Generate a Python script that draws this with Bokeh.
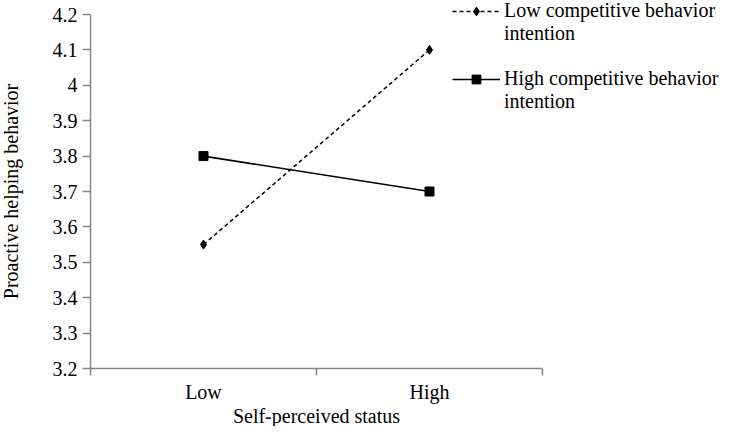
from bokeh.plotting import figure
from bokeh.models import (Range1d, FixedTicker, CustomJSTickFormatter, Legend, LegendItem)
from bokeh.embed import file_html
from bokeh.resources import INLINE

# ---- data ----
categories = ["Low", "High"]
low_competitive = [3.55, 4.10]
high_competitive = [3.80, 3.70]
y_ticks = [3.2, 3.3, 3.4, 3.5, 3.6, 3.7, 3.8, 3.9, 4.0, 4.1, 4.2]
series_names = ["Low competitive behavior", "High competitive behavior"]
x_title = "Self-perceived status"
y_title = "Proactive helping behavior"

FONT = "Liberation Serif"
FS = "20px"
AXIS_COLOR = "#878787"

# ---- layout (pixels) ----
W, H = 722, 426
AX_L, AX_R = 90, 542      # x extent of the x axis
AX_T, AX_B = 14, 368      # y extent of the y axis

n = len(categories)
x_pos = [i + 0.5 for i in range(n)]
bounds = [i for i in range(n + 1)]
y0, y1 = y_ticks[0], y_ticks[-1]

ppx = (AX_R - AX_L) / n
ppy = (AX_B - AX_T) / (y1 - y0)
x_start, x_end = -AX_L / ppx, (W - AX_L) / ppx
y_start, y_end = y0 - (H - AX_B) / ppy, y1 + AX_T / ppy

p = figure(width=W, height=H, output_backend="svg", toolbar_location=None,
           x_range=Range1d(x_start, x_end), y_range=Range1d(y_start, y_end),
           min_border=0, min_border_left=0, min_border_right=0,
           min_border_top=0, min_border_bottom=0)
p.outline_line_color = None
p.xgrid.visible = False
p.ygrid.visible = False
p.background_fill_color = "white"
p.border_fill_color = "white"

# series
l1 = p.line(x_pos, low_competitive, line_color="black", line_width=1.5, line_dash="4 3")
m1 = p.scatter(x_pos, low_competitive, marker="diamond", size=9, color="black")
l2 = p.line(x_pos, high_competitive, line_color="black", line_width=1.7)
m2 = p.scatter(x_pos, high_competitive, marker="square", size=9, color="black")
blank = p.line(x=[], y=[], line_alpha=0)

# x axis
xa = p.xaxis[0]
xa.fixed_location = y0
xa.bounds = (0, n)
xa.ticker = FixedTicker(ticks=x_pos, minor_ticks=bounds)
xa.major_label_overrides = {x: c for x, c in zip(x_pos, categories)}
xa.major_tick_out = 0
xa.major_tick_in = 0
xa.minor_tick_out = 7
xa.minor_tick_in = 0
xa.minor_tick_line_color = AXIS_COLOR
xa.minor_tick_line_width = 1.5
xa.axis_line_color = AXIS_COLOR
xa.axis_line_width = 1.5
xa.major_label_text_font = FONT
xa.major_label_text_font_size = FS
xa.major_label_text_color = "black"
xa.major_label_standoff = 5
xa.axis_label = x_title
xa.axis_label_text_font = FONT
xa.axis_label_text_font_size = FS
xa.axis_label_text_font_style = "normal"
xa.axis_label_text_color = "black"
xa.axis_label_standoff = -1

# y axis
ya = p.yaxis[0]
ya.fixed_location = 0
ya.bounds = (y0, y1)
ya.ticker = FixedTicker(ticks=y_ticks, minor_ticks=[])
ya.formatter = CustomJSTickFormatter(code="return String(Number(tick.toFixed(1)));")
ya.major_tick_out = 8
ya.major_tick_in = 0
ya.major_tick_line_color = AXIS_COLOR
ya.major_tick_line_width = 1.5
ya.minor_tick_out = 0
ya.minor_tick_in = 0
ya.axis_line_color = AXIS_COLOR
ya.axis_line_width = 1.5
ya.major_label_text_font = FONT
ya.major_label_text_font_size = FS
ya.major_label_text_color = "black"
ya.major_label_standoff = 5
ya.axis_label = y_title
ya.axis_label_text_font = FONT
ya.axis_label_text_font_size = FS
ya.axis_label_text_font_style = "normal"
ya.axis_label_text_color = "black"
ya.axis_label_standoff = 28

# legend (second line of each label as its own row)
items = [
    LegendItem(label=series_names[0], renderers=[l1, m1]),
    LegendItem(label="intention", renderers=[blank]),
    LegendItem(label=" ", renderers=[blank]),
    LegendItem(label=series_names[1], renderers=[l2, m2]),
    LegendItem(label="intention", renderers=[blank]),
]
legend = Legend(items=items, location=(452, H - 5 * 23 + 2), orientation="vertical")
legend.border_line_alpha = 0
legend.background_fill_alpha = 0
legend.padding = 0
legend.margin = 0
legend.spacing = 0
legend.glyph_width = 48
legend.glyph_height = 22
legend.label_height = 22
legend.label_standoff = 4
legend.label_text_font = FONT
legend.label_text_font_size = FS
legend.label_text_color = "black"
legend.label_text_baseline = "middle"
p.add_layout(legend, "center")

open("out.html", "w").write(file_html(p, INLINE))
